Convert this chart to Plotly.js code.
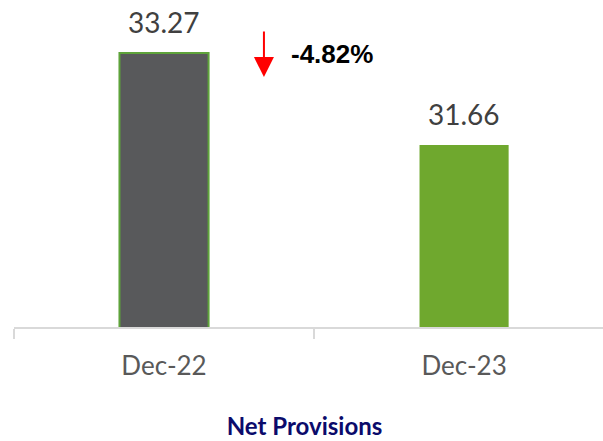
<!DOCTYPE html>
<html>
<head>
<meta charset="utf-8">
<script src="https://cdn.plot.ly/plotly-3.0.1.min.js"></script>
<style>html,body{margin:0;padding:0;background:#fff;}#chart{width:603px;height:441px;}</style>
</head>
<body>
<div id="chart"></div>
<script>
const categories = ["Dec-22", "Dec-23"];
const values = [33.27, 31.66];
const valueLabels = ["33.27", "31.66"];
const changeLabel = "-4.82%";
const chartTitle = "Net Provisions";

const barColors = ["#58595B", "#6FA82E"];
const lineColors = ["#5EA33A", "#6FA82E"];

const trace = {
  type: "bar",
  x: categories,
  y: values,
  width: 0.297,
  marker: { color: barColors, line: { color: lineColors, width: [2, 0] } },
  hoverinfo: "skip"
};

const annotations = categories.map((c, i) => ({
  x: c, y: values[i], xref: "x", yref: "y",
  text: valueLabels[i], showarrow: false,
  yanchor: "middle", yshift: 31,
  font: { family: "Lato, 'Open Sans', sans-serif", size: 28, color: "#404040" }
}));

annotations.push({
  x: 0.333, y: 32.85, xref: "x", yref: "y",
  text: "", showarrow: true, ax: 0, ay: -47,
  arrowhead: 2, arrowsize: 2, arrowwidth: 2, arrowcolor: "#FF0000"
});
annotations.push({
  x: 0.418, y: 33.25, xref: "x", yref: "y",
  text: "<b>" + changeLabel + "</b>", showarrow: false,
  xanchor: "left", yanchor: "middle",
  font: { family: "'Liberation Sans', Arial, sans-serif", size: 26, color: "#000000" }
});

const layout = {
  width: 603, height: 441,
  margin: { l: 14, r: 0, t: 0, b: 114, pad: 0 },
  paper_bgcolor: "#ffffff", plot_bgcolor: "#ffffff",
  showlegend: false,
  title: {
    text: "<b>" + chartTitle + "</b>",
    x: 0.505, xref: "container", xanchor: "center",
    y: 1 - 427 / 441, yref: "container", yanchor: "middle",
    font: { family: "Lato, 'Open Sans', sans-serif", size: 24, color: "#0B0B6B" }
  },
  xaxis: {
    type: "category",
    range: [-0.5, 1.463],
    showline: true, linecolor: "#D9D9D9", linewidth: 2,
    ticks: "outside", tickson: "boundaries", ticklen: 10, tickwidth: 2, tickcolor: "#D9D9D9",
    ticklabelstandoff: 15,
    tickfont: { family: "Lato, 'Open Sans', sans-serif", size: 26, color: "#595959" },
    showgrid: false, zeroline: false, fixedrange: true
  },
  yaxis: {
    range: [28.47, 34.2],
    visible: false, showgrid: false, zeroline: false, fixedrange: true
  },
  annotations: annotations
};

Plotly.newPlot("chart", [trace], layout, { displayModeBar: false, staticPlot: true });
</script>
</body>
</html>
